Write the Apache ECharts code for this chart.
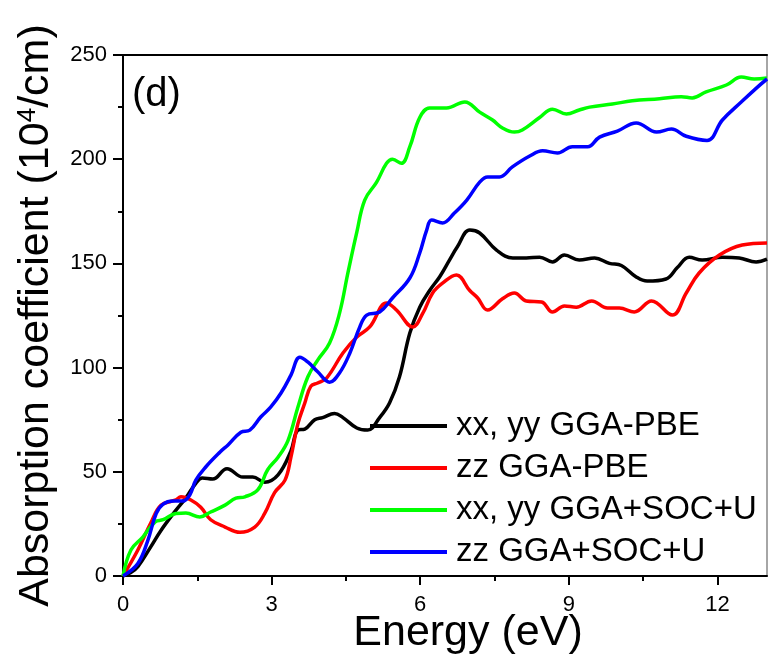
<!DOCTYPE html>
<html><head><meta charset="utf-8">
<script src="https://cdn.jsdelivr.net/npm/echarts@6/dist/echarts.min.js"></script>
<style>html,body{margin:0;padding:0;background:#fff}#c{width:768px;height:661px}</style>
</head><body><div id="c"></div>
<script>
var seriesNames = ['xx, yy GGA-PBE', 'zz GGA-PBE', 'xx, yy GGA+SOC+U', 'zz GGA+SOC+U'];
var seriesColors = ['#000000', '#ff0000', '#00ff00', '#0000ff'];
var xTickValues = [0, 3, 6, 9, 12];
var xMinorTickValues = [1.5, 4.5, 7.5, 10.5];

var xxPBE = [[0,0],[0.15,1.5],[0.3,4.5],[0.56,14],[0.77,22],[1.05,31],[1.27,37.5],[1.47,44.5],[1.6,47],[1.81,46.5],[2.1,51.5],[2.42,47.5],[2.62,47.5],[2.86,45],[3.13,48.5],[3.39,60],[3.53,70],[3.67,70.5],[3.87,75],[4.03,76],[4.27,78],[4.44,76],[4.72,71],[4.94,70],[5.18,76],[5.38,83],[5.58,95.5],[5.79,116.6],[5.99,129],[6.19,137],[6.39,143.5],[6.59,151.6],[6.75,158],[7.0,166],[7.2,164.6],[7.54,156.4],[7.87,152.6],[8.14,152.6],[8.41,153],[8.67,150.7],[8.91,154],[9.21,151.6],[9.52,152.6],[9.82,150],[10.06,149],[10.36,143.5],[10.58,141.5],[10.96,142.5],[11.19,148],[11.43,153],[11.69,151.6],[12.1,153],[12.44,152.6],[12.78,150.7],[13,152]];
var zzPBE = [[0,0],[0.3,12.5],[0.56,25.4],[0.77,34],[1.07,36.5],[1.17,38],[1.37,36.5],[1.57,33],[1.77,27],[2.06,23.5],[2.36,21],[2.66,23.5],[2.86,30],[3.06,40],[3.27,46],[3.39,57],[3.53,73],[3.67,83],[3.79,91],[3.93,92.6],[4.11,95],[4.44,107],[4.72,114.7],[4.98,119.5],[5.32,131],[5.52,127.6],[5.85,119.5],[6.05,126],[6.25,135.8],[6.45,140.5],[6.73,144.4],[7.0,137],[7.16,133.4],[7.36,127.6],[7.66,133],[7.9,135.8],[8.14,132],[8.45,131.5],[8.67,126.7],[8.91,129.6],[9.15,129],[9.46,132],[9.78,128.6],[10.02,128.6],[10.32,126.7],[10.67,132],[11.09,125.2],[11.37,135.8],[11.63,145.4],[12.04,154],[12.5,158.8],[13,159.8]];
var xxSOCU = [[0,0],[0.16,12.5],[0.4,18.7],[0.65,26],[0.81,27],[1.07,30],[1.27,30.2],[1.55,28.3],[1.77,30.7],[2.06,34],[2.28,37.4],[2.46,38],[2.72,41.3],[2.92,51],[3.13,57],[3.33,65],[3.53,81],[3.73,95.5],[3.93,103.6],[4.17,111.8],[4.37,126],[4.54,145.4],[4.72,165],[4.88,180.4],[5.12,189],[5.32,198],[5.44,200],[5.62,198],[5.79,206],[5.99,220],[6.19,224.6],[6.53,224.6],[6.9,227.5],[7.2,222.6],[7.46,218.8],[7.66,215],[7.9,213],[8.06,214],[8.41,220],[8.67,224],[8.95,221.7],[9.21,223.6],[9.42,225],[9.88,226.5],[10.28,228],[10.83,229],[11.27,230],[11.49,229.4],[11.77,232.3],[12.18,235.6],[12.48,239.4],[12.74,238.5],[13,239]];
var zzSOCU = [[0,0],[0.3,6],[0.5,17],[0.67,30],[0.81,34.5],[1.01,36],[1.21,36],[1.35,39],[1.47,46],[1.67,52.3],[1.96,59.5],[2.12,62.9],[2.38,69],[2.56,70],[2.78,76.3],[2.98,81],[3.19,87.8],[3.39,96.4],[3.57,105],[3.73,102.7],[3.93,98],[4.17,93],[4.37,97.4],[4.58,107],[4.78,119.5],[4.92,125.2],[5.18,126.7],[5.44,133.4],[5.79,143],[5.99,155],[6.13,166],[6.23,170.8],[6.45,169.4],[6.69,174.2],[6.94,180.4],[7.2,189],[7.36,191.5],[7.6,191.5],[7.86,196.3],[8.21,201.5],[8.47,204],[8.77,203],[9.07,206],[9.38,206],[9.62,210.6],[9.98,213.5],[10.36,217.4],[10.77,213],[11.07,214.5],[11.37,211],[11.79,209],[12.1,218.8],[12.48,227.4],[12.78,234],[13,238.5]];
var allData = [xxPBE, zzPBE, xxSOCU, zzSOCU];

var FONT = "'Liberation Sans', Arial, sans-serif";
var chart = echarts.init(document.getElementById('c'), null, {renderer: 'canvas'});
var option = {
  animation: false,
  backgroundColor: '#ffffff',
  grid: {left: 123, right: 1, top: 55, bottom: 85, containLabel: false, outerBoundsMode: 'none'},
  legend: {
    data: seriesNames,
    orient: 'vertical',
    left: 365, top: 400,
    icon: 'rect', itemWidth: 77, itemHeight: 4, itemGap: 0,
    textStyle: {fontFamily: FONT, fontSize: 33, color: '#000', lineHeight: 42, padding: [0,0,0,4]}
  },
  xAxis: [{
    type: 'value', min: 0, max: 13, position: 'bottom',
    name: 'Energy (eV)', nameLocation: 'middle', nameGap: 36, nameMoveOverlap: false,
    nameTextStyle: {fontFamily: FONT, fontSize: 43, color: '#000', padding: [0,0,0,46]},
    axisLine: {show: true, onZero: false, lineStyle: {color: '#000', width: 2}},
    axisTick: {show: true, length: 9, customValues: xTickValues, lineStyle: {color: '#000', width: 2}},
    axisLabel: {fontFamily: FONT, fontSize: 22, color: '#000', margin: 18, customValues: xTickValues},
    splitLine: {show: false}
  }, {
    type: 'value', min: 0, max: 13, position: 'bottom',
    axisLine: {show: false},
    axisTick: {show: true, length: 5, customValues: xMinorTickValues, lineStyle: {color: '#000', width: 2}},
    axisLabel: {show: false},
    splitLine: {show: false}
  }, {
    type: 'value', min: 0, max: 13, position: 'top',
    axisLine: {show: true, onZero: false, lineStyle: {color: '#000', width: 2}},
    axisTick: {show: false}, axisLabel: {show: false}, splitLine: {show: false}
  }],
  yAxis: [{
    type: 'value', min: 0, max: 250, interval: 50, position: 'left',
    name: 'Absorption coefficient (10{sup|4}/cm)', nameLocation: 'middle', nameGap: 65, nameMoveOverlap: false,
    nameTextStyle: {fontFamily: FONT, fontSize: 43, color: '#000',
      rich: {sup: {fontFamily: FONT, fontSize: 26, color: '#000', verticalAlign: 'top', padding: [0,0,14,0]}}},
    axisLine: {show: true, onZero: false, lineStyle: {color: '#000', width: 2}},
    axisTick: {show: true, length: 10, lineStyle: {color: '#000', width: 2}},
    minorTick: {show: true, splitNumber: 2, length: 5, lineStyle: {color: '#000', width: 2}},
    axisLabel: {fontFamily: FONT, fontSize: 22, color: '#000', margin: 16},
    splitLine: {show: false}
  }, {
    type: 'value', min: 0, max: 250, position: 'right',
    axisLine: {show: true, onZero: false, lineStyle: {color: '#888', width: 1.5}},
    axisTick: {show: false}, axisLabel: {show: false}, splitLine: {show: false}
  }],
  graphic: [{
    type: 'text', left: 132, top: 75,
    style: {text: '(d)', fontFamily: FONT, fontSize: 40, fill: '#000'}
  }],
  series: seriesNames.map(function (n, i) {
    return {
      name: n, type: 'line', data: allData[i], xAxisIndex: 0, yAxisIndex: 0,
      showSymbol: false, symbol: 'none', smooth: 0.4,
      lineStyle: {color: seriesColors[i], width: 3.5},
      itemStyle: {color: seriesColors[i]}
    };
  })
};
chart.setOption(option);
</script>
</body></html>
